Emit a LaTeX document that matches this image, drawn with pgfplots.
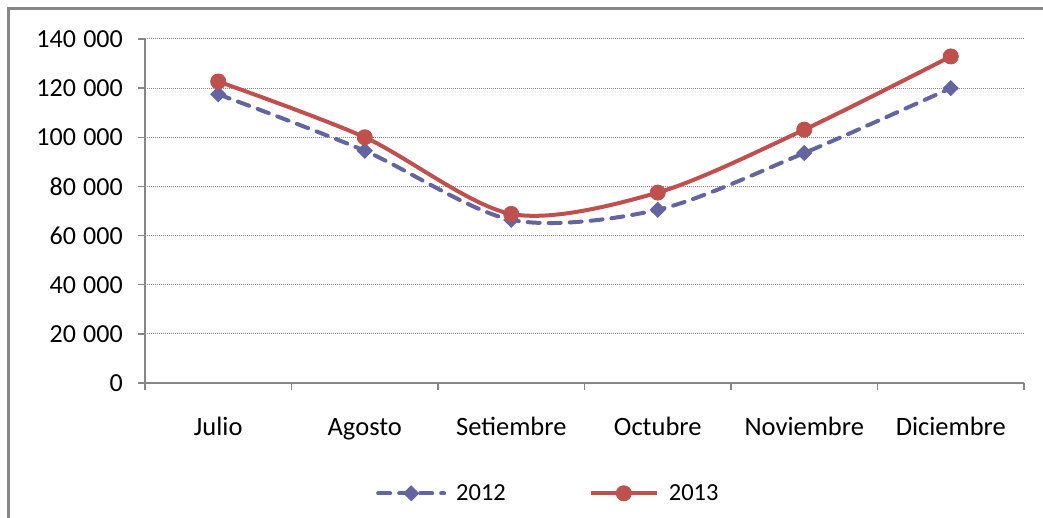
\documentclass[border=0pt]{standalone}
\usepackage{fontspec}
\setmainfont{Carlito}
\usepackage{pgfplots}
\pgfplotsset{compat=1.18}
\definecolor{cblue}{RGB}{100,100,160}
\definecolor{cred}{RGB}{192,80,77}
\definecolor{axgray}{RGB}{134,134,134}
\newcommand{\fsy}{\fontsize{26bp}{31bp}\selectfont}
\newcommand{\fsx}{\fontsize{26.5bp}{31bp}\selectfont}
\newcommand{\fsl}{\fontsize{24.5bp}{29bp}\selectfont}
\begin{document}
\begin{tikzpicture}[x=1bp,y=1bp]
\useasboundingbox (0,0) rectangle (1043,518);
\draw[axgray, line width=2.2bp] (8.5,0) -- (8.5,509.5) -- (1043,509.5);
\begin{axis}[
  at={(145bp,135bp)}, anchor=south west,
  scale only axis, width=879bp, height=344bp,
  xmin=0.5, xmax=6.5, ymin=0, ymax=140000,
  axis x line*=bottom, axis y line*=left,
  axis line style={axgray, line width=1.5bp},
  xtick={0.5,1.5,...,6.5}, xticklabels={},
  extra x ticks={1,2,3,4,5,6},
  extra x tick labels={Julio,Agosto,Setiembre,Octubre,Noviembre,Diciembre},
  extra x tick style={major tick length=0pt, grid=none,
    xticklabel style={anchor=base, inner sep=0pt, yshift=-53bp, font=\fsx}},
  ytick={0,20000,...,140000},
  scaled y ticks=false,
  yticklabel style={anchor=east, inner sep=0pt, xshift=-15bp, font=\fsy},
  /pgf/number format/.cd, fixed, precision=0, 1000 sep={\hspace{0.28em}}, assume math mode=true,
  /pgfplots/.cd,
  tick align=outside, major tick length=7bp,
  tick style={axgray, line width=1.5bp},
  ymajorgrids,
  grid style={axgray, line width=1bp, dash pattern=on 1bp off 1bp},
  legend columns=2,
  legend style={draw=none, fill=none, font=\fsl, at={(0.4577,-0.3206)}, anchor=center,
    nodes={inner sep=0pt},
    /tikz/every even column/.append style={column sep=83bp},
    /tikz/every odd column/.append style={column sep=10bp}},
  legend image code/.code={\draw[#1, mark repeat=2, mark phase=2] plot coordinates {(0bp,0bp) (33bp,0bp) (66bp,0bp)};},
]
\addplot[cblue, line width=4bp, smooth, dash pattern=on 12bp off 9bp, line cap=round,
  mark=square*, mark size=5.2bp, mark options={solid, rotate=45, fill=cblue, line width=1bp}]
  coordinates {(1,117500) (2,94500) (3,66400) (4,70500) (5,93600) (6,120000)};
\addlegendentry{2012}
\addplot[cred, line width=4bp, smooth,
  mark=*, mark size=7.5bp, mark options={solid, fill=cred, line width=1bp}]
  coordinates {(1,122700) (2,100000) (3,68800) (4,77500) (5,103100) (6,132900)};
\addlegendentry{2013}
\end{axis}
\end{tikzpicture}
\end{document}
